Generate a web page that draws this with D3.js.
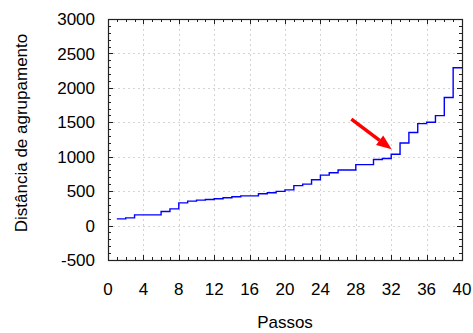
<!DOCTYPE html>
<html>
<head>
<meta charset="utf-8">
<script src="https://cdn.jsdelivr.net/npm/d3@7"></script>
<style>
  body { margin: 0; background: #fff; }
  text { font-family: "Liberation Sans", Arial, sans-serif; }
</style>
</head>
<body>
<script>
// step k covers passo k .. k+1
const steps = [1, 2, 3, 4, 5, 6, 7, 8, 9, 10, 11, 12, 13, 14, 15, 16, 17, 18, 19, 20,
  21, 22, 23, 24, 25, 26, 27, 28, 29, 30, 31, 32, 33, 34, 35, 36, 37, 38, 39];
const distances = [97, 112, 156, 156, 156, 204, 243, 330, 355, 369, 379, 389, 403, 418, 432, 432, 462, 476, 496, 518,
  580, 602, 666, 733, 768, 806, 806, 885, 885, 960, 975, 1035, 1200, 1351, 1480, 1500, 1597, 1859, 2292];
const lastStep = 40;
const xTicks = [0, 4, 8, 12, 16, 20, 24, 28, 32, 36, 40];
const yTicks = [-500, 0, 500, 1000, 1500, 2000, 2500, 3000];
const arrowFrom = [27.5, 1545];
const arrowTo = [32.05, 1108];

const width = 473, height = 333;
const x = d3.scaleLinear().domain([0, 40]).range([108, 462]);
const y = d3.scaleLinear().domain([-500, 3000]).range([260, 19]);

const svg = d3.select("body").append("svg")
    .attr("width", width)
    .attr("height", height);

// grid
const grid = svg.append("g")
    .attr("stroke", "#d4d4d4")
    .attr("stroke-width", 1)
    .attr("stroke-dasharray", "2,3");
grid.selectAll("line.gx")
    .data(xTicks.slice(1, -1))
    .enter().append("line")
    .attr("x1", d => Math.round(x(d)) + 0.5).attr("x2", d => Math.round(x(d)) + 0.5)
    .attr("y1", y(3000)).attr("y2", y(-500));
grid.selectAll("line.gy")
    .data(yTicks.slice(1, -1))
    .enter().append("line")
    .attr("y1", d => Math.round(y(d)) + 0.5).attr("y2", d => Math.round(y(d)) + 0.5)
    .attr("x1", x(0)).attr("x2", x(40));

// axes with inward ticks
const xMinor = d3.range(0, 41, 1);
const yMinor = d3.range(-500, 3001, 100);
const ticks = svg.append("g").attr("stroke", "#222").attr("stroke-width", 1);
xMinor.forEach(d => {
  const len = d % 4 === 0 ? 5 : 3;
  const px = Math.round(x(d)) + 0.5;
  ticks.append("line").attr("x1", px).attr("x2", px).attr("y1", y(-500)).attr("y2", y(-500) - len);
  ticks.append("line").attr("x1", px).attr("x2", px).attr("y1", y(3000)).attr("y2", y(3000) + len);
});
yMinor.forEach(d => {
  const len = d % 500 === 0 ? 5 : 3;
  const py = Math.round(y(d)) + 0.5;
  ticks.append("line").attr("y1", py).attr("y2", py).attr("x1", x(0)).attr("x2", x(0) + len);
  ticks.append("line").attr("y1", py).attr("y2", py).attr("x1", x(40)).attr("x2", x(40) - len);
});

svg.append("rect")
    .attr("x", Math.round(x(0)) + 0.5).attr("y", Math.round(y(3000)) + 0.5)
    .attr("width", Math.round(x(40)) - Math.round(x(0)))
    .attr("height", Math.round(y(-500)) - Math.round(y(3000)))
    .attr("fill", "none").attr("stroke", "#222").attr("stroke-width", 1.2);

// tick labels
svg.append("g").selectAll("text")
    .data(xTicks)
    .enter().append("text")
    .attr("x", d => x(d))
    .attr("y", 295)
    .attr("text-anchor", "middle")
    .attr("font-size", 17)
    .text(d => d);
svg.append("g").selectAll("text")
    .data(yTicks)
    .enter().append("text")
    .attr("x", 95)
    .attr("y", d => y(d))
    .attr("dy", "0.36em")
    .attr("text-anchor", "end")
    .attr("font-size", 17)
    .text(d => d);

svg.append("text")
    .attr("x", (x(0) + x(40)) / 2)
    .attr("y", 328)
    .attr("text-anchor", "middle")
    .attr("font-size", 17)
    .text("Passos");
svg.append("text")
    .attr("transform", "translate(27," + 133 + ") rotate(-90)")
    .attr("text-anchor", "middle")
    .attr("font-size", 17)
    .text("Distância de agrupamento");

// step line
const pts = steps.map((s, i) => [s, distances[i]]);
pts.push([lastStep, distances[distances.length - 1]]);
const line = d3.line()
    .x(d => x(d[0]))
    .y(d => y(d[1]))
    .curve(d3.curveStepAfter);
svg.append("path")
    .datum(pts)
    .attr("fill", "none")
    .attr("stroke", "#0000ff")
    .attr("stroke-width", 1.4)
    .attr("d", line);

// arrow
const ax0 = x(arrowFrom[0]), ay0 = y(arrowFrom[1]);
const ax1 = x(arrowTo[0]), ay1 = y(arrowTo[1]);
const ang = Math.atan2(ay1 - ay0, ax1 - ax0);
const headLen = 15, headW = 6;
const bx = ax1 - headLen * Math.cos(ang), by = ay1 - headLen * Math.sin(ang);
svg.append("line")
    .attr("x1", ax0).attr("y1", ay0).attr("x2", bx).attr("y2", by)
    .attr("stroke", "#ff0000").attr("stroke-width", 3.5);
svg.append("polygon")
    .attr("points", [
      [ax1, ay1],
      [bx + headW * Math.sin(ang), by - headW * Math.cos(ang)],
      [bx - headW * Math.sin(ang), by + headW * Math.cos(ang)]
    ].map(p => p.join(",")).join(" "))
    .attr("fill", "#ff0000");
</script>
</body>
</html>
